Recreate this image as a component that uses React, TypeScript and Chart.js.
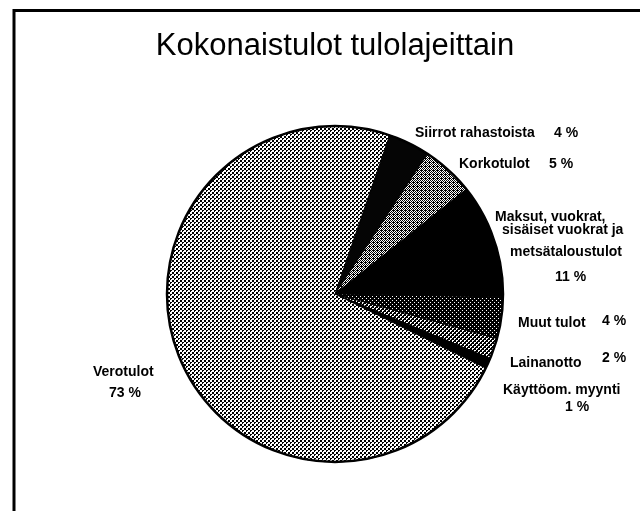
import React, { useEffect, useRef } from 'react';
import { Chart, registerables } from 'chart.js';

Chart.register(...registerables);

const chartTitle = 'Kokonaistulot tulolajeittain';
const categories = [
  'Siirrot rahastoista',
  'Korkotulot',
  'Maksut, vuokrat, sisäiset vuokrat ja metsätaloustulot',
  'Muut tulot',
  'Lainanotto',
  'Käyttöom. myynti',
  'Verotulot',
];
const labelLines = [
  ['Siirrot rahastoista'],
  ['Korkotulot'],
  ['Maksut, vuokrat,', 'sisäiset vuokrat ja', 'metsätaloustulot'],
  ['Muut tulot'],
  ['Lainanotto'],
  ['Käyttöom. myynti'],
  ['Verotulot'],
];
const shares = [4, 5, 11, 4, 2, 1, 73];

// label placement (pixels), kept separate from the data
const labelLayout = [
  { lines: [[415, 133]], pct: [554, 133] },
  { lines: [[459, 164]], pct: [549, 164] },
  { lines: [[495, 217], [502, 230], [510, 252]], pct: [555, 277] },
  { lines: [[518, 323]], pct: [602, 321] },
  { lines: [[510, 363]], pct: [602, 358] },
  { lines: [[503, 390]], pct: [565, 407] },
  { lines: [[93, 372]], pct: [109, 393] },
];

function makePattern(size: number, bg: string, fg: string, pixels: number[][]) {
  const tile = document.createElement('canvas');
  tile.width = size;
  tile.height = size;
  const c = tile.getContext('2d')!;
  c.fillStyle = bg;
  c.fillRect(0, 0, size, size);
  c.fillStyle = fg;
  pixels.forEach(([x, y]) => c.fillRect(x, y, 1, 1));
  const p = c.createPattern(tile, 'repeat');
  return p as CanvasPattern;
}

export default function App() {
  const ref = useRef<HTMLCanvasElement | null>(null);

  useEffect(() => {
    const canvas = ref.current;
    if (!canvas) return;

    const fills = [
      '#050505',
      makePattern(4, '#000000', '#ffffff', [[1, 0], [3, 0], [0, 1], [2, 1], [3, 2], [0, 3], [2, 3]]),
      '#000000',
      makePattern(4, '#000000', '#ffffff', [[0, 0], [2, 2]]),
      makePattern(4, '#000000', '#ffffff', [[0, 0], [1, 0], [0, 1], [2, 2], [3, 2], [2, 3]]),
      '#000000',
      makePattern(4, '#ffffff', '#000000', [[0, 0], [1, 0], [0, 1], [1, 1], [2, 2], [3, 2], [2, 3]]),
    ];

    const framePlugin = {
      id: 'frame',
      beforeDraw(chart: any) {
        const ctx = chart.ctx;
        ctx.save();
        ctx.fillStyle = '#ffffff';
        ctx.fillRect(0, 0, chart.width, chart.height);
        ctx.strokeStyle = '#000000';
        ctx.lineWidth = 3;
        ctx.beginPath();
        ctx.moveTo(14, chart.height + 10);
        ctx.lineTo(14, 10.5);
        ctx.lineTo(chart.width + 10, 10.5);
        ctx.stroke();
        ctx.restore();
      },
    };

    const outlinePlugin = {
      id: 'outline',
      afterDatasetsDraw(chart: any) {
        const meta = chart.getDatasetMeta(0);
        const arc = meta.data[0];
        if (!arc) return;
        const ctx = chart.ctx;
        ctx.save();
        ctx.strokeStyle = '#000000';
        ctx.lineWidth = 2.5;
        ctx.beginPath();
        ctx.arc(arc.x, arc.y, arc.outerRadius, 0, Math.PI * 2);
        ctx.stroke();
        ctx.restore();
      },
    };

    const labelPlugin = {
      id: 'sliceLabels',
      afterDraw(chart: any) {
        const ctx = chart.ctx;
        ctx.save();
        ctx.fillStyle = '#000000';
        ctx.font = 'bold 14px "Liberation Sans", Arial, sans-serif';
        ctx.textAlign = 'left';
        ctx.textBaseline = 'middle';
        const values = chart.data.datasets[0].data as number[];
        labelLines.forEach((lines, i) => {
          const lay = labelLayout[i];
          lines.forEach((t, j) => {
            const [x, y] = lay.lines[j];
            ctx.fillText(t, x, y);
          });
          ctx.fillText(`${values[i]} %`, lay.pct[0], lay.pct[1]);
        });
        ctx.restore();
      },
    };

    const chart = new Chart(canvas, {
      type: 'pie',
      data: {
        labels: categories,
        datasets: [
          {
            data: shares,
            backgroundColor: fills as any,
            borderColor: '#000000',
            borderWidth: 1,
            hoverOffset: 0,
          },
        ],
      },
      options: {
        responsive: false,
        animation: false,
        devicePixelRatio: 1,
        rotation: 19,
        radius: 168,
        layout: { padding: { left: 30, right: 0, top: 0, bottom: 0 } },
        plugins: {
          legend: { display: false },
          tooltip: { enabled: false },
          title: {
            display: true,
            text: chartTitle,
            color: '#000000',
            font: { family: '"Liberation Sans", Arial, sans-serif', size: 31, weight: 'normal' },
            padding: { top: 28, bottom: 11.8 },
          },
        },
      } as any,
      plugins: [framePlugin, outlinePlugin, labelPlugin],
    });

    return () => chart.destroy();
  }, []);

  return (
    <div style={{ position: 'absolute', left: 0, top: 0, width: 640, height: 511, overflow: 'hidden' }}>
      <canvas ref={ref} width={640} height={511} style={{ width: 640, height: 511, display: 'block' }} />
    </div>
  );
}
